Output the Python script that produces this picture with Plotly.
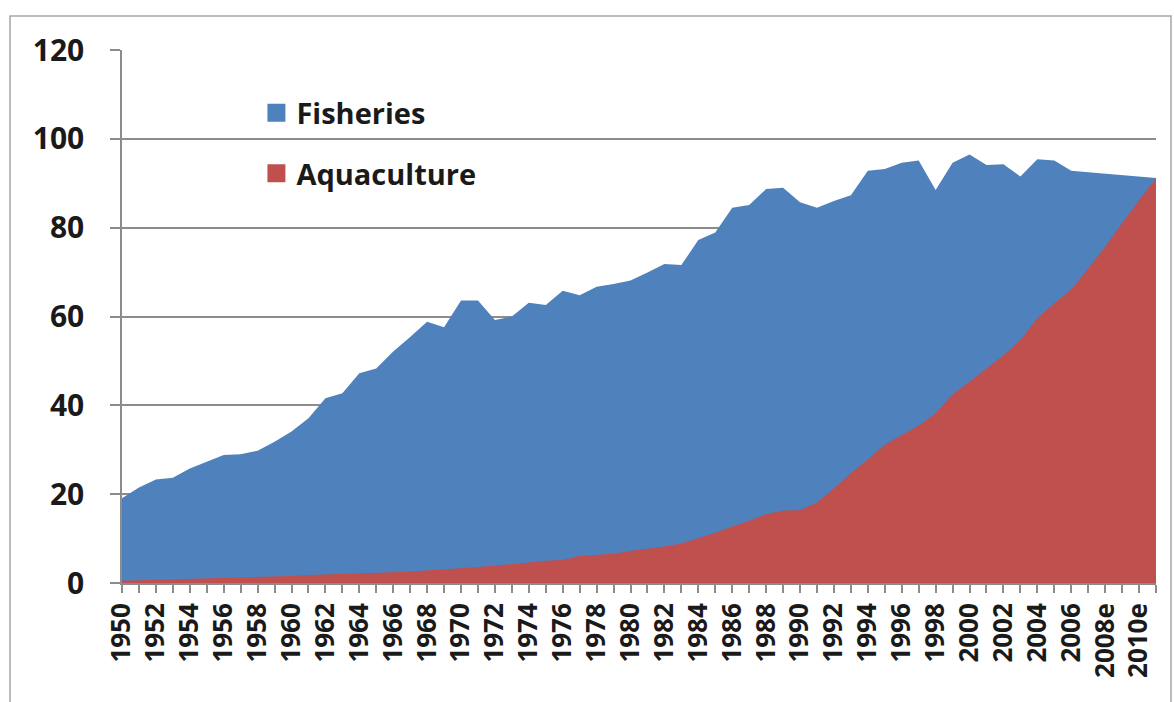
import plotly.graph_objects as go

years = [str(y) for y in range(1950, 2008)] + ["2008e", "2009e", "2010e", "2011e"]

fisheries = [19.1, 21.5, 23.3, 23.7, 25.8, 27.3, 28.8, 29.0, 29.8, 31.8,
             34.1, 37.1, 41.6, 42.7, 47.2, 48.3, 52.1, 55.4, 58.8, 57.6,
             63.6, 63.6, 59.2, 60.0, 63.1, 62.6, 65.8, 64.8, 66.7, 67.3,
             68.1, 69.9, 71.8, 71.6, 77.2, 78.9, 84.5, 85.1, 88.7, 89.0,
             85.7, 84.5, 86.0, 87.3, 92.8, 93.2, 94.6, 95.1, 88.5, 94.6,
             96.5, 94.1, 94.3, 91.5, 95.4, 95.1, 92.8, 92.5, 92.2, 91.9,
             91.6, 91.2]

aquaculture = [0.5, 0.6, 0.7, 0.8, 0.9, 1.0, 1.1, 1.3, 1.4, 1.5,
               1.6, 1.8, 1.9, 2.0, 2.1, 2.2, 2.4, 2.6, 2.8, 3.0,
               3.3, 3.6, 3.9, 4.2, 4.6, 5.0, 5.2, 6.1, 6.4, 6.6,
               7.2, 7.7, 8.2, 8.9, 10.1, 11.3, 12.7, 14.0, 15.5, 16.3,
               16.4, 18.1, 21.3, 24.7, 27.8, 31.1, 33.3, 35.4, 38.2, 42.5,
               45.3, 48.3, 51.3, 54.7, 59.6, 63.0, 66.1, 70.8, 75.7, 81.0,
               86.2, 91.1]

idx = list(range(len(years)))

BLUE = "#4F81BD"
RED = "#C0504D"
GRID = "#8c8c8c"
FONT = "Open Sans"
TXT = "#1a1a1a"

fig = go.Figure()
fig.add_trace(go.Scatter(x=idx, y=fisheries, fill="tozeroy", mode="lines",
                         line=dict(width=0, color=BLUE), fillcolor=BLUE,
                         showlegend=False, name="Fisheries"))
fig.add_trace(go.Scatter(x=idx, y=aquaculture, fill="tozeroy", mode="lines",
                         line=dict(width=0, color=RED), fillcolor=RED,
                         showlegend=False, name="Aquaculture"))
# legend entries
fig.add_trace(go.Scatter(x=[None], y=[None], mode="markers", name="Fisheries",
                         legendgroup="a",
                         marker=dict(symbol="square", size=16, color=BLUE,
                                     line=dict(width=2, color=BLUE))))
fig.add_trace(go.Scatter(x=[None], y=[None], mode="markers", name="Aquaculture",
                         legendgroup="b",
                         marker=dict(symbol="square", size=16, color=RED,
                                     line=dict(width=2, color=RED))))

fig.update_layout(
    width=1174, height=702,
    margin=dict(l=122, r=18, t=50, b=119),
    paper_bgcolor="white", plot_bgcolor="white",
    font=dict(family=FONT, color=TXT),
    legend=dict(x=0.13, y=0.93, xanchor="left", yanchor="top",
                font=dict(family=FONT, size=29, color=TXT, weight="bold"),
                tracegroupgap=20, bgcolor="rgba(0,0,0,0)", traceorder="grouped"),
    shapes=[dict(type="rect", xref="paper", yref="paper",
                 x0=-0.1083, x1=1.0145, y0=-0.235, y1=1.0638,
                 line=dict(color="#a6a6a6", width=1.5), fillcolor="rgba(0,0,0,0)",
                 layer="below")],
)

fig.update_xaxes(
    range=[0, len(years) - 1],
    tickmode="array", tickvals=idx[::2], ticktext=years[::2],
    tickangle=-90,
    tickfont=dict(family=FONT, size=26, color=TXT, weight="bold"),
    ticks="outside", ticklen=8, tickcolor=GRID, tickwidth=1.5,
    minor=dict(tickmode="linear", tick0=0, dtick=1, ticks="outside",
               ticklen=8, tickcolor=GRID, tickwidth=1.5, showgrid=False),
    showline=True, linecolor=GRID, linewidth=1.5,
    showgrid=False, zeroline=False,
)
fig.update_yaxes(
    range=[0, 120], tickmode="linear", tick0=0, dtick=20,
    tickfont=dict(family=FONT, size=30, color=TXT, weight="bold"),
    ticks="outside", ticklen=10, tickcolor=GRID, tickwidth=1.5,
    ticklabelstandoff=20,
    showline=True, linecolor=GRID, linewidth=1.5,
    showgrid=True, gridcolor=GRID, gridwidth=1.5, zeroline=False,
)

fig.write_html("out.html")
